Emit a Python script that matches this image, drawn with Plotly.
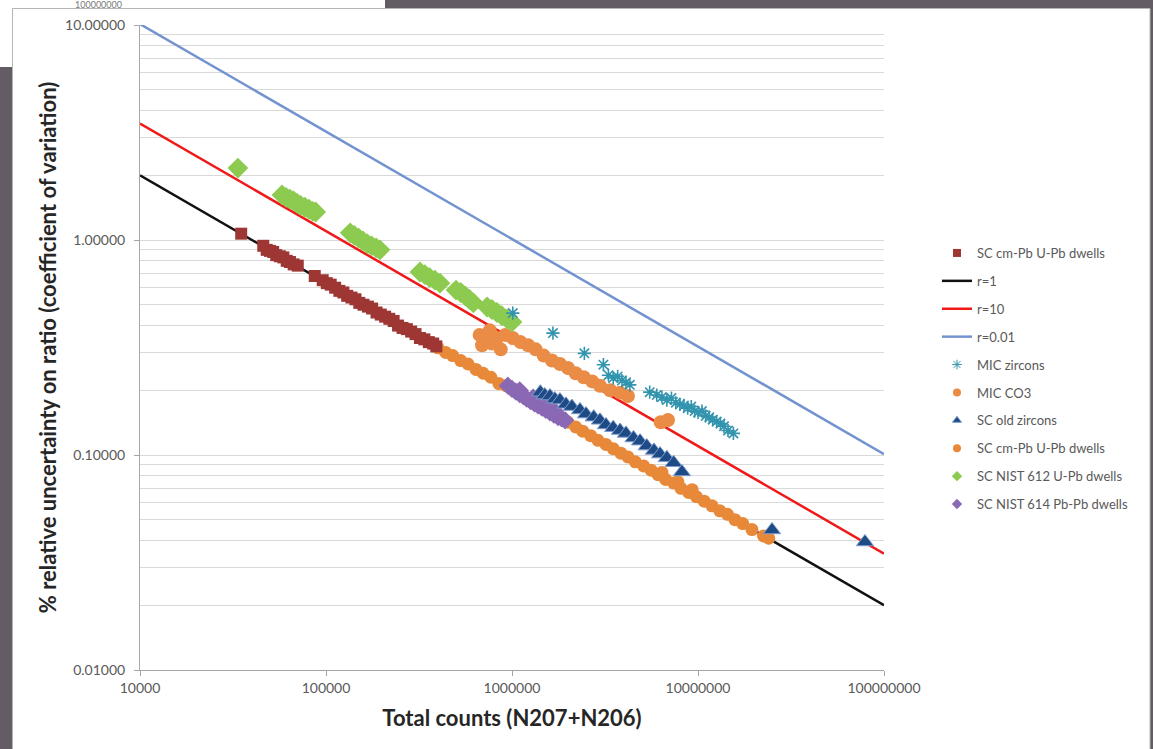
import plotly.graph_objects as go

# ---- theoretical counting-statistics lines (endpoints at 1e4 and 1e8 counts) ----
line_counts = [1e4, 1e8]
r1_cv = [2.0, 0.02]
r10_cv = [3.479, 0.03479]
r001_cv = [10.1, 0.101]

# ---- SC cm-Pb U-Pb dwells (squares) ----
sc_cmpb_sq_n = [35000, 46000, 48000, 50000, 52000, 54000, 56500, 59000, 61500, 64000,
                67000, 70500, 87000, 96000, 101000, 106000, 112000, 118000, 124000, 130000,
                137000, 144000, 151000, 159000, 168000, 177000, 187000, 197000, 208000, 219000,
                231000, 244000, 258000, 272000, 287000, 303000, 320000, 338000, 357000, 377000,
                392000]
sc_cmpb_sq_cv = [1.07, 0.94, 0.90, 0.89, 0.88, 0.85, 0.84, 0.83, 0.80, 0.79,
                 0.77, 0.76, 0.68, 0.65, 0.63, 0.62, 0.60, 0.58, 0.57, 0.55,
                 0.54, 0.53, 0.51, 0.50, 0.49, 0.48, 0.46, 0.45, 0.44, 0.43,
                 0.42, 0.40, 0.39, 0.385, 0.375, 0.365, 0.35, 0.345, 0.335, 0.33,
                 0.32]

# ---- SC cm-Pb U-Pb dwells (circles) ----
sc_cmpb_ci_n = [3.7e5, 4.0e5, 4.4e5, 4.8e5, 5.3e5, 5.8e5, 6.4e5, 7.0e5, 7.7e5, 8.5e5,
                9.3e5, 1.02e6, 1.12e6, 1.23e6, 1.35e6, 1.5e6, 1.65e6, 1.8e6, 2.0e6, 2.2e6,
                2.4e6, 2.65e6, 2.9e6, 3.2e6, 3.5e6, 3.85e6, 4.2e6, 4.6e6, 5.1e6, 5.6e6,
                6.1e6, 6.7e6, 7.4e6, 8.1e6, 8.9e6, 9.8e6, 1.08e7, 1.19e7, 1.31e7, 1.44e7,
                1.58e7, 1.74e7, 1.95e7, 2.25e7, 2.4e7, 6.4e6, 7.8e6, 9.3e6]
sc_cmpb_ci_cv = [0.33, 0.315, 0.30, 0.29, 0.275, 0.265, 0.25, 0.24, 0.23, 0.215,
                 0.21, 0.20, 0.19, 0.18, 0.172, 0.163, 0.156, 0.149, 0.142, 0.135,
                 0.129, 0.123, 0.117, 0.112, 0.107, 0.102, 0.098, 0.093, 0.089, 0.085,
                 0.081, 0.077, 0.074, 0.070, 0.067, 0.064, 0.061, 0.058, 0.055, 0.053,
                 0.050, 0.048, 0.045, 0.042, 0.041, 0.083, 0.075, 0.069]

# ---- MIC CO3 ----
mic_co3_n = [6.7e5, 6.9e5, 7.1e5, 7.6e5, 7.8e5, 8.3e5, 8.7e5, 9.2e5, 1.01e6, 1.11e6,
             1.22e6, 1.34e6, 1.48e6, 1.64e6, 1.81e6, 2.0e6, 2.2e6, 2.43e6, 2.7e6, 2.97e6,
             3.37e6, 3.81e6, 4.2e6, 6.3e6, 6.9e6]
mic_co3_cv = [0.362, 0.324, 0.342, 0.38, 0.33, 0.35, 0.31, 0.362, 0.35, 0.335,
              0.324, 0.31, 0.29, 0.275, 0.265, 0.254, 0.24, 0.23, 0.22, 0.21,
              0.20, 0.195, 0.188, 0.142, 0.1455]

# ---- MIC zircons ----
mic_zr_n = [1.01e6, 1.66e6, 2.45e6, 3.1e6, 3.3e6, 3.5e6, 3.7e6, 3.9e6, 4.1e6, 4.3e6,
            5.5e6, 6.0e6, 6.4e6, 6.8e6, 7.2e6, 7.6e6, 8.0e6, 8.4e6, 8.8e6, 9.2e6,
            9.6e6, 1.0e7, 1.05e7, 1.1e7, 1.15e7, 1.2e7, 1.26e7, 1.32e7, 1.38e7, 1.45e7,
            1.55e7]
mic_zr_cv = [0.457, 0.369, 0.297, 0.263, 0.235, 0.228, 0.232, 0.222, 0.218, 0.212,
             0.196, 0.19, 0.186, 0.18, 0.184, 0.175, 0.172, 0.17, 0.165, 0.168,
             0.16, 0.158, 0.16, 0.152, 0.15, 0.146, 0.143, 0.14, 0.136, 0.13,
             0.126]

# ---- SC old zircons ----
sc_old_n = [1.42e6, 1.5e6, 1.6e6, 1.7e6, 1.81e6, 1.95e6, 2.1e6, 2.32e6, 2.5e6, 2.75e6,
            2.97e6, 3.2e6, 3.5e6, 3.81e6, 4.1e6, 4.5e6, 4.88e6, 5.3e6, 5.8e6, 6.25e6,
            6.8e6, 7.4e6, 8.2e6, 2.5e7, 7.9e7]
sc_old_cv = [0.196, 0.19, 0.188, 0.182, 0.18, 0.172, 0.168, 0.162, 0.155, 0.15,
             0.145, 0.138, 0.134, 0.13, 0.126, 0.12, 0.116, 0.11, 0.105, 0.101,
             0.097, 0.092, 0.0834, 0.0448, 0.0394]

# ---- SC NIST 612 U-Pb dwells ----
nist612_n = [33600, 58000, 61000, 64000, 67000, 70000, 73000, 77000, 81000, 85000,
             88000, 135000, 142000, 150000, 158000, 167000, 176000, 186000, 195000, 320000,
             340000, 360000, 385000, 410000, 500000, 530000, 560000, 590000, 620000, 735000,
             780000, 830000, 880000, 940000, 1000000]
nist612_cv = [2.16, 1.62, 1.58, 1.55, 1.52, 1.48, 1.45, 1.42, 1.39, 1.36,
              1.35, 1.08, 1.05, 1.02, 0.99, 0.96, 0.94, 0.92, 0.90, 0.71,
              0.69, 0.67, 0.65, 0.63, 0.585, 0.57, 0.55, 0.53, 0.51, 0.488,
              0.475, 0.46, 0.445, 0.43, 0.416]

# ---- SC NIST 614 Pb-Pb dwells ----
nist614_n = [9.5e5, 1.0e6, 1.05e6, 1.1e6, 1.15e6, 1.2e6, 1.26e6, 1.32e6, 1.38e6, 1.45e6,
             1.52e6, 1.6e6, 1.68e6, 1.77e6, 1.85e6, 1.93e6, 1.1e6, 1.3e6, 1.5e6, 1.7e6]
nist614_cv = [0.21, 0.203, 0.197, 0.192, 0.188, 0.183, 0.178, 0.174, 0.170, 0.166,
              0.162, 0.158, 0.154, 0.150, 0.148, 0.145, 0.20, 0.185, 0.171, 0.16]

# ---- axis ticks ----
x_ticks = [1e4, 1e5, 1e6, 1e7, 1e8]
x_tick_labels = ["10000", "100000", "1000000", "10000000", "100000000"]
y_ticks = [0.01, 0.1, 1, 10]
y_tick_labels = ["0.01000", "0.10000", "1.00000", "10.00000"]
y_minor_grid = [0.02, 0.03, 0.04, 0.05, 0.06, 0.07, 0.08, 0.09,
                0.2, 0.3, 0.4, 0.5, 0.6, 0.7, 0.8, 0.9,
                2, 3, 4, 5, 6, 7, 8, 9]

fig = go.Figure()

def add_line(name, y, color, width, rank):
    fig.add_trace(go.Scatter(x=line_counts, y=y, mode="lines", name=name,
                             line=dict(color=color, width=width),
                             legendgroup=name, legendrank=rank))

def add_points(name, x, y, symbol, size, color, rank, group, line=None, legend_size=8):
    outline = line if line else dict(width=0)
    fig.add_trace(go.Scatter(x=x, y=y, mode="markers", name=name,
                             marker=dict(symbol=symbol, size=size, color=color, line=outline),
                             legendgroup=group, showlegend=False))
    # compact legend key, as in spreadsheet charts
    legend_line = dict(outline, width=min(outline.get("width", 0), 1))
    fig.add_trace(go.Scatter(x=[None], y=[None], mode="markers", name=name,
                             marker=dict(symbol=symbol, size=legend_size, color=color,
                                         line=legend_line),
                             legendgroup=group, legendrank=rank, hoverinfo="skip"))

add_line("r=1", r1_cv, "#111111", 2.5, 2)
add_line("r=10", r10_cv, "#F01818", 2.5, 3)
add_line("r=0.01", r001_cv, "#7393D0", 2.5, 4)

add_points("SC cm-Pb U-Pb dwells", sc_cmpb_ci_n, sc_cmpb_ci_cv, "circle", 13,
           "#E8893A", 8, "g8")
add_points("SC cm-Pb U-Pb dwells", sc_cmpb_sq_n, sc_cmpb_sq_cv, "square", 12,
           "#9E3734", 1, "g1")
add_points("MIC CO3", mic_co3_n, mic_co3_cv, "circle", 14, "#EA8C45", 6, "g6")
add_points("SC NIST 614 Pb-Pb dwells", nist614_n, nist614_cv, "diamond", 14,
           "#8A68B4", 10, "g10")
add_points("SC old zircons", sc_old_n, sc_old_cv, "triangle-up", 15, "#1E4A86", 7, "g7",
           line=dict(width=1, color="#7E9DCC"))
add_points("SC NIST 612 U-Pb dwells", nist612_n, nist612_cv, "diamond", 16,
           "#8CCB50", 9, "g9")
add_points("MIC zircons", mic_zr_n, mic_zr_cv, "asterisk-open", 11, "#3294AE", 5, "g5",
           line=dict(width=1.6, color="#3294AE"))

W, H = 1153, 749
L, R, T, B = 140, 269, 25, 79
PW, PH = W - L - R, H - T - B

def px(x):
    return (x - L) / PW

def py(y):
    return (H - B - y) / PH

shapes = [
    # white strip above the chart panel (top-left)
    dict(type="rect", xref="paper", yref="paper", x0=px(-5), x1=px(385), y0=py(8.5), y1=py(-5),
         fillcolor="white", line=dict(width=0), layer="below"),
    dict(type="rect", xref="paper", yref="paper", x0=px(-5), x1=px(12.5), y0=py(67), y1=py(-5),
         fillcolor="white", line=dict(width=0), layer="below"),
    # chart panel
    dict(type="rect", xref="paper", yref="paper", x0=px(12.5), x1=px(1150), y0=py(760), y1=py(8.5),
         fillcolor="white", line=dict(width=1, color="#B5B5B5"), layer="below"),
]

fig.update_layout(
    width=W, height=H,
    margin=dict(l=L, r=R, t=T, b=B, autoexpand=False),
    paper_bgcolor="#645C64",
    plot_bgcolor="white",
    font=dict(family="Lato", color="#595959"),
    shapes=shapes,
    showlegend=True,
    legend=dict(x=px(937), xanchor="left", y=py(238), yanchor="top",
                font=dict(family="Lato", size=13, color="#595959"),
                bgcolor="rgba(0,0,0,0)", traceorder="grouped", tracegroupgap=8,
                itemwidth=30),
    xaxis=dict(type="log", range=[4, 8], tickmode="array", tickvals=x_ticks,
               ticktext=x_tick_labels, showgrid=False, zeroline=False,
               showline=True, linecolor="#A6A6A6", linewidth=1,
               ticks="outside", ticklen=5, tickcolor="#A6A6A6",
               tickfont=dict(family="Lato", size=14, color="#595959"),
               title=dict(text="<b>Total counts (N207+N206)</b>",
                          font=dict(family="Lato", size=22, color="#262626"),
                          standoff=15)),
    yaxis=dict(type="log", range=[-2, 1], tickmode="array", tickvals=y_ticks,
               ticktext=y_tick_labels, showgrid=True, gridcolor="#D9D9D9", gridwidth=1.2,
               minor=dict(tickmode="array", tickvals=y_minor_grid, showgrid=True,
                          gridcolor="#D9D9D9", gridwidth=1.2, ticks=""),
               zeroline=False, showline=True, linecolor="#A6A6A6", linewidth=1,
               ticks="outside", ticklen=5, tickcolor="#A6A6A6", ticklabelstandoff=6,
               tickfont=dict(family="Lato", size=14, color="#595959"),
               title=dict(text="<b>% relative uncertainty on ratio (coefficient of variation)</b>",
                          font=dict(family="Lato", size=22, color="#262626"),
                          standoff=2)),
    annotations=[
        dict(text="100000000", xref="paper", yref="paper", x=px(98), y=py(4.5),
             xanchor="center", yanchor="middle", showarrow=False,
             font=dict(family="Lato", size=9, color="#7A7A7A")),
    ],
)

fig.write_html("out.html")
